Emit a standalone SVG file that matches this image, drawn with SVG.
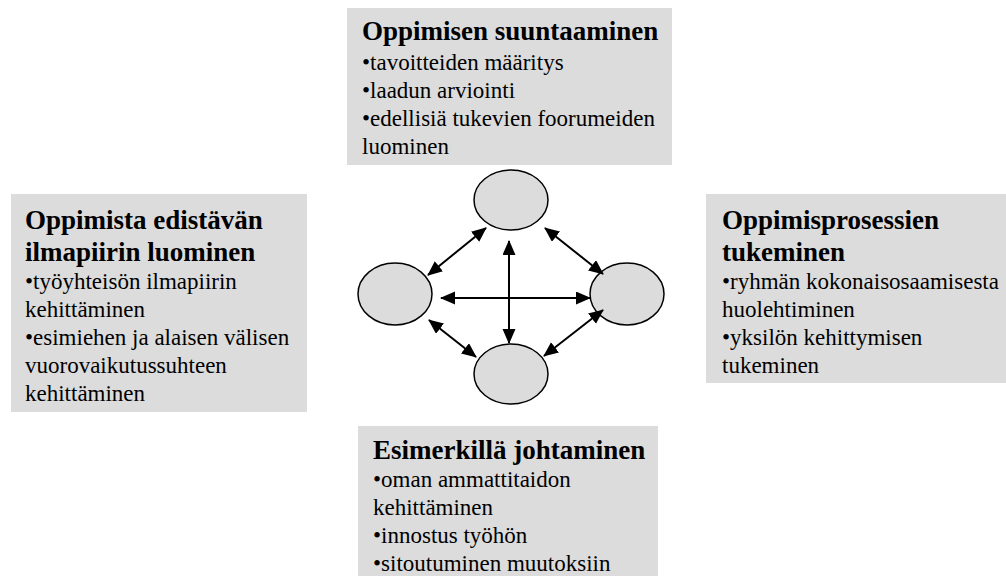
<svg xmlns="http://www.w3.org/2000/svg" width="1006" height="576" viewBox="0 0 1006 576">
  <style>
    .box { fill: #dcdcdc; stroke: none; }
    .hub { fill: #dcdcdc; stroke: #000; stroke-width: 1.5; }
    .link { stroke: #000; stroke-width: 2; fill: none; marker-start: url(#head); marker-end: url(#head); }
  </style>
  <defs>
    <marker id="head" markerUnits="userSpaceOnUse" markerWidth="16" markerHeight="14" refX="14" refY="6.5" orient="auto-start-reverse">
      <path d="M0,0 L15,6.5 L0,13 z" fill="#000"/>
    </marker>
  </defs>
  <rect width="1006" height="576" fill="#fff"/>

  <!-- text panels: one text block each, bold 27px heading lines, regular 23px list lines -->
  <g id="panel-top">
    <rect class="box" x="347" y="8" width="325" height="157"/>
    <text font-family="Times New Roman, serif" font-size="23" fill="#000">
      <tspan x="362" y="40" font-size="27" font-weight="bold">Oppimisen suuntaaminen</tspan>
      <tspan x="362" y="70">•tavoitteiden määritys</tspan>
      <tspan x="362" y="98">•laadun arviointi</tspan>
      <tspan x="362" y="126">•edellisiä tukevien foorumeiden</tspan>
      <tspan x="362" y="154">luominen</tspan>
    </text>
  </g>
  <g id="panel-left">
    <rect class="box" x="11" y="194" width="296" height="218"/>
    <text font-family="Times New Roman, serif" font-size="23" fill="#000">
      <tspan x="25" y="229" font-size="27" font-weight="bold">Oppimista edistävän</tspan>
      <tspan x="25" y="261" font-size="27" font-weight="bold">ilmapiirin luominen</tspan>
      <tspan x="25" y="289">•työyhteisön ilmapiirin</tspan>
      <tspan x="25" y="317">kehittäminen</tspan>
      <tspan x="25" y="345">•esimiehen ja alaisen välisen</tspan>
      <tspan x="25" y="373">vuorovaikutussuhteen</tspan>
      <tspan x="25" y="401">kehittäminen</tspan>
    </text>
  </g>
  <g id="panel-right">
    <rect class="box" x="706" y="194" width="300" height="189"/>
    <text font-family="Times New Roman, serif" font-size="23" fill="#000">
      <tspan x="722" y="229" font-size="27" font-weight="bold">Oppimisprosessien</tspan>
      <tspan x="722" y="261" font-size="27" font-weight="bold">tukeminen</tspan>
      <tspan x="722" y="289">•ryhmän kokonaisosaamisesta</tspan>
      <tspan x="722" y="317">huolehtiminen</tspan>
      <tspan x="722" y="345">•yksilön kehittymisen</tspan>
      <tspan x="722" y="373">tukeminen</tspan>
    </text>
  </g>
  <g id="panel-bottom">
    <rect class="box" x="358" y="426" width="300" height="150"/>
    <text font-family="Times New Roman, serif" font-size="23" fill="#000">
      <tspan x="373" y="459" font-size="27" font-weight="bold">Esimerkillä johtaminen</tspan>
      <tspan x="373" y="487">•oman ammattitaidon</tspan>
      <tspan x="373" y="515">kehittäminen</tspan>
      <tspan x="373" y="543">•innostus työhön</tspan>
      <tspan x="373" y="571">•sitoutuminen muutoksiin</tspan>
    </text>
  </g>

  <!-- central ellipses -->
  <g id="hub-top"><ellipse class="hub" cx="511" cy="200" rx="37" ry="30"/></g>
  <g id="hub-left"><ellipse class="hub" cx="395" cy="294" rx="37" ry="31"/></g>
  <g id="hub-right"><ellipse class="hub" cx="627" cy="294" rx="37" ry="31"/></g>
  <g id="hub-bottom"><ellipse class="hub" cx="511" cy="374" rx="37" ry="30"/></g>

  <!-- two-way connectors -->
  <g id="connectors">
    <line class="link" x1="509" y1="241" x2="509" y2="343"/>
    <line class="link" x1="441" y1="298" x2="590" y2="298"/>
    <line class="link" x1="486" y1="228" x2="428" y2="275"/>
    <line class="link" x1="545" y1="228" x2="603" y2="274"/>
    <line class="link" x1="429" y1="320" x2="476" y2="357"/>
    <line class="link" x1="603" y1="310" x2="544" y2="356"/>
  </g>
</svg>
